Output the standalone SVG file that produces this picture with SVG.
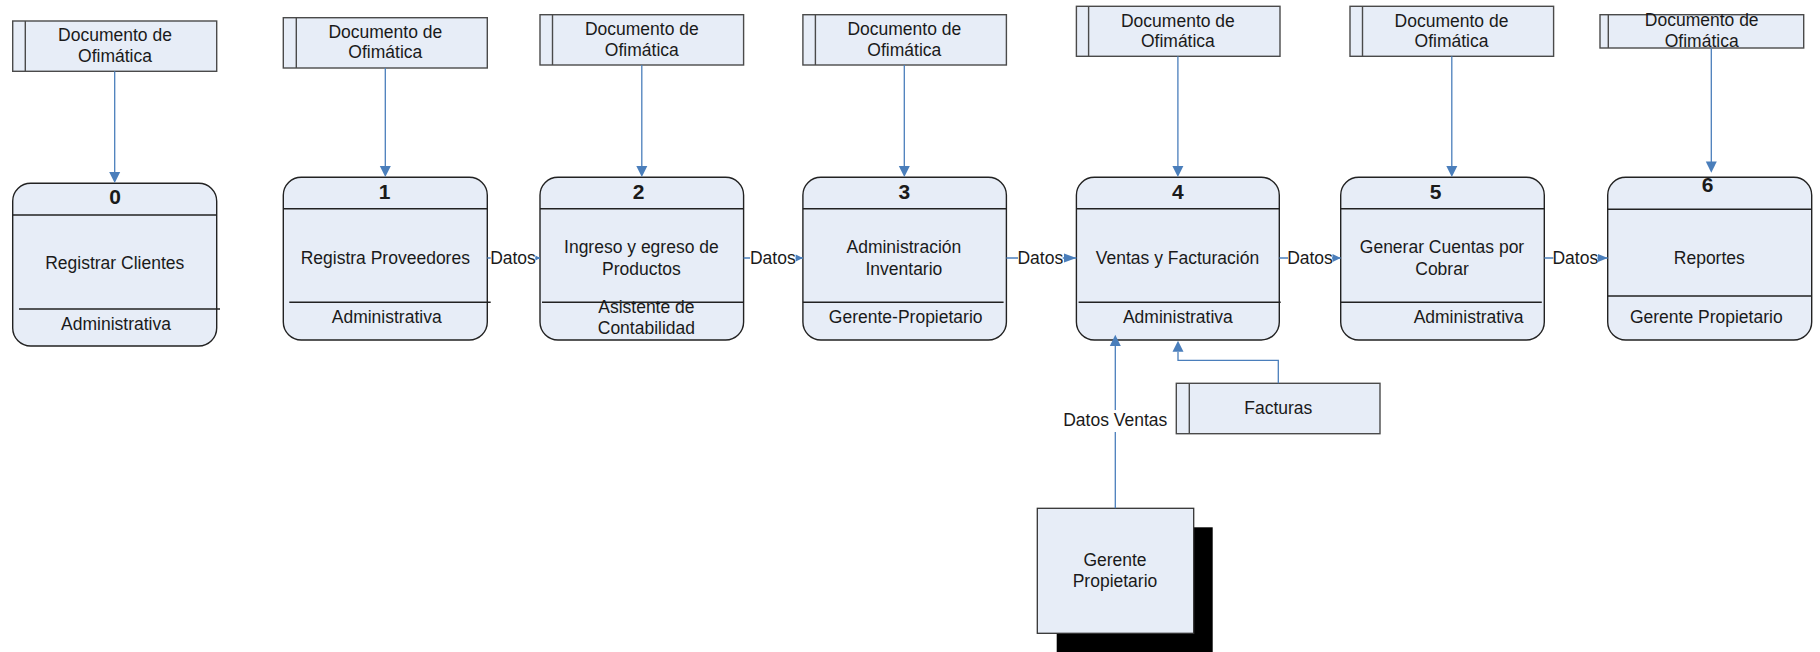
<svg xmlns="http://www.w3.org/2000/svg" width="1820" height="652" viewBox="0 0 1820 652">
  <style>
    text { font-family: "Liberation Sans", Arial, sans-serif; font-size: 17.5px; fill: #1a1a1a; text-anchor: middle; }
    .num { font-weight: bold; font-size: 21px; }
    .proc { fill: #E7EDF7; stroke: #222; stroke-width: 1.4; }
    .sep { stroke: #222; stroke-width: 1.4; fill: none; }
    .store { fill: #E7EDF7; stroke: #4a4a4a; stroke-width: 1.4; }
    .bar { stroke: #4a4a4a; stroke-width: 1.4; }
    .flow { stroke: #4A7EBB; stroke-width: 1.3; fill: none; }
    .ah { fill: #4A7EBB; }
    .lbl { fill: #ffffff; }
    .ent { fill: #E7EDF7; stroke: #333; stroke-width: 1.3; }
  </style>
  <rect width="1820" height="652" fill="#ffffff"/>

  <!-- data stores: Documento de Ofimática -->
  <g id="doc0">
    <rect class="store" x="12.7" y="21" width="204" height="50.3"/>
    <line class="bar" x1="25.3" y1="21" x2="25.3" y2="71.3"/>
    <text x="115" y="40.7">Documento de</text>
    <text x="115" y="61.7">Ofimática</text>
  </g>
  <g id="doc1">
    <rect class="store" x="283.3" y="17.7" width="204" height="50.3"/>
    <line class="bar" x1="296.3" y1="17.7" x2="296.3" y2="68"/>
    <text x="385.3" y="37.7">Documento de</text>
    <text x="385.3" y="58.3">Ofimática</text>
  </g>
  <g id="doc2">
    <rect class="store" x="540" y="14.7" width="203.6" height="50.3"/>
    <line class="bar" x1="552.5" y1="14.7" x2="552.5" y2="65"/>
    <text x="641.8" y="35">Documento de</text>
    <text x="641.8" y="55.7">Ofimática</text>
  </g>
  <g id="doc3">
    <rect class="store" x="802.9" y="14.7" width="203.5" height="50.3"/>
    <line class="bar" x1="815.4" y1="14.7" x2="815.4" y2="65"/>
    <text x="904.3" y="35">Documento de</text>
    <text x="904.3" y="55.7">Ofimática</text>
  </g>
  <g id="doc4">
    <rect class="store" x="1076.4" y="6.3" width="203.6" height="50"/>
    <line class="bar" x1="1088.6" y1="6.3" x2="1088.6" y2="56.3"/>
    <text x="1177.9" y="26.7">Documento de</text>
    <text x="1177.9" y="47.3">Ofimática</text>
  </g>
  <g id="doc5">
    <rect class="store" x="1350" y="6.3" width="203.6" height="50"/>
    <line class="bar" x1="1362.5" y1="6.3" x2="1362.5" y2="56.3"/>
    <text x="1451.5" y="26.7">Documento de</text>
    <text x="1451.5" y="47.3">Ofimática</text>
  </g>
  <g id="doc6">
    <rect class="store" x="1600" y="14.7" width="203.7" height="33.3"/>
    <line class="bar" x1="1608.3" y1="14.7" x2="1608.3" y2="48"/>
    <text x="1701.7" y="26">Documento de</text>
    <text x="1701.7" y="46.7">Ofimática</text>
  </g>

  <!-- processes -->
  <g id="p0">
    <rect class="proc" x="12.7" y="183.3" width="204" height="162.7" rx="18"/>
    <line class="sep" x1="12.7" y1="215" x2="216.7" y2="215"/>
    <line class="sep" x1="19" y1="309" x2="220" y2="309"/>
    <text class="num" x="115" y="204">0</text>
    <text x="114.7" y="269">Registrar Clientes</text>
    <text x="116" y="330">Administrativa</text>
  </g>
  <g id="p1">
    <rect class="proc" x="283.3" y="177.3" width="204" height="162.7" rx="18"/>
    <line class="sep" x1="283.3" y1="208.7" x2="487.3" y2="208.7"/>
    <line class="sep" x1="289.3" y1="302.3" x2="490.7" y2="302.3"/>
    <text class="num" x="384.7" y="198.5">1</text>
    <text x="385.3" y="264.3">Registra Proveedores</text>
    <text x="386.7" y="322.7">Administrativa</text>
  </g>
  <g id="p2">
    <rect class="proc" x="540" y="177.3" width="203.6" height="162.7" rx="18"/>
    <line class="sep" x1="540" y1="208.7" x2="743.6" y2="208.7"/>
    <line class="sep" x1="542" y1="302.3" x2="743.6" y2="302.3"/>
    <text class="num" x="638.6" y="198.5">2</text>
    <text x="641.4" y="253.3">Ingreso y egreso de</text>
    <text x="641.4" y="275">Productos</text>
    <text x="646.4" y="313.3">Asistente de</text>
    <text x="646.4" y="334">Contabilidad</text>
  </g>
  <g id="p3">
    <rect class="proc" x="802.9" y="177.3" width="203.5" height="162.7" rx="18"/>
    <line class="sep" x1="802.9" y1="208.7" x2="1006.4" y2="208.7"/>
    <line class="sep" x1="802.9" y1="302.3" x2="1003.6" y2="302.3"/>
    <text class="num" x="904.3" y="198.5">3</text>
    <text x="903.9" y="253.3">Administración</text>
    <text x="903.9" y="275">Inventario</text>
    <text x="905.7" y="322.7">Gerente-Propietario</text>
  </g>
  <g id="p4">
    <rect class="proc" x="1076.4" y="177.3" width="202.9" height="162.7" rx="18"/>
    <line class="sep" x1="1076.4" y1="208.7" x2="1279.3" y2="208.7"/>
    <line class="sep" x1="1078.6" y1="302.3" x2="1280.7" y2="302.3"/>
    <text class="num" x="1177.9" y="198.5">4</text>
    <text x="1177.5" y="264.3">Ventas y Facturación</text>
    <text x="1177.9" y="322.7">Administrativa</text>
  </g>
  <g id="p5">
    <rect class="proc" x="1340.7" y="177.3" width="203.6" height="162.7" rx="18"/>
    <line class="sep" x1="1340.7" y1="208.7" x2="1544.3" y2="208.7"/>
    <line class="sep" x1="1340.7" y1="302.3" x2="1541.8" y2="302.3"/>
    <text class="num" x="1435.7" y="198.5">5</text>
    <text x="1442" y="253.3">Generar Cuentas por</text>
    <text x="1442" y="275">Cobrar</text>
    <text x="1468.6" y="322.7">Administrativa</text>
  </g>
  <g id="p6">
    <rect class="proc" x="1607.7" y="177.3" width="204" height="162.7" rx="18"/>
    <line class="sep" x1="1607.7" y1="209.3" x2="1811.7" y2="209.3"/>
    <line class="sep" x1="1607.7" y1="296" x2="1811.7" y2="296"/>
    <text class="num" x="1707.7" y="192">6</text>
    <text x="1709.3" y="264.3">Reportes</text>
    <text x="1706.3" y="322.7">Gerente Propietario</text>
  </g>

  <!-- data store: Facturas -->
  <g id="facturas">
    <rect class="store" x="1176.3" y="383.3" width="203.7" height="50.4"/>
    <line class="bar" x1="1189.3" y1="383.3" x2="1189.3" y2="433.7"/>
    <text x="1278.3" y="414">Facturas</text>
  </g>

  <!-- external entity: Gerente Propietario -->
  <g id="gerente">
    <rect x="1056.7" y="527.3" width="156" height="124.7" fill="#000000"/>
    <rect class="ent" x="1037.3" y="508.3" width="156.4" height="125"/>
    <text x="1115" y="565.7">Gerente</text>
    <text x="1115" y="586.7">Propietario</text>
  </g>

  <!-- flows -->
  <g id="connectors">
    <!-- store to process -->
    <line class="flow" x1="114.7" y1="71.3" x2="114.7" y2="173"/>
    <polygon class="ah" points="109.2,172 120.2,172 114.7,183"/>
    <line class="flow" x1="385.3" y1="68" x2="385.3" y2="167"/>
    <polygon class="ah" points="379.8,166 390.8,166 385.3,177"/>
    <line class="flow" x1="641.8" y1="65" x2="641.8" y2="167"/>
    <polygon class="ah" points="636.3,166 647.3,166 641.8,177"/>
    <line class="flow" x1="904.3" y1="65" x2="904.3" y2="167"/>
    <polygon class="ah" points="898.8,166 909.8,166 904.3,177"/>
    <line class="flow" x1="1177.9" y1="56.3" x2="1177.9" y2="167"/>
    <polygon class="ah" points="1172.4,166 1183.4,166 1177.9,177"/>
    <line class="flow" x1="1451.8" y1="56.3" x2="1451.8" y2="167"/>
    <polygon class="ah" points="1446.3,166 1457.3,166 1451.8,177"/>
    <line class="flow" x1="1711.3" y1="48" x2="1711.3" y2="162"/>
    <polygon class="ah" points="1705.8,161.5 1716.8,161.5 1711.3,172.7"/>

    <!-- process to process -->
    <line class="flow" x1="487.3" y1="258" x2="540" y2="258"/>
    <rect class="lbl" x="490.7" y="249" width="44.6" height="19"/>
    <text x="513" y="264">Datos</text>
    <polygon class="ah" points="535.5,255.5 535.5,260.5 540,258"/>

    <line class="flow" x1="743.6" y1="258" x2="802.9" y2="258"/>
    <rect class="lbl" x="750" y="249" width="45.7" height="19"/>
    <text x="772.8" y="264">Datos</text>
    <polygon class="ah" points="795.7,254.5 795.7,261.5 802.9,258"/>

    <line class="flow" x1="1006.4" y1="258" x2="1076.4" y2="258"/>
    <rect class="lbl" x="1018" y="249" width="44.7" height="19"/>
    <text x="1040.3" y="264">Datos</text>
    <polygon class="ah" points="1064,253.5 1064,262.5 1076.4,258"/>

    <line class="flow" x1="1279.3" y1="258" x2="1340.7" y2="258"/>
    <rect class="lbl" x="1288" y="249" width="44" height="19"/>
    <text x="1310" y="264">Datos</text>
    <polygon class="ah" points="1332.5,254 1332.5,262 1340.7,258"/>

    <line class="flow" x1="1544.3" y1="258" x2="1607.7" y2="258"/>
    <rect class="lbl" x="1553.3" y="249" width="44" height="19"/>
    <text x="1575.3" y="264">Datos</text>
    <polygon class="ah" points="1598,254 1598,262 1607.7,258"/>

    <!-- entity to process 4 -->
    <line class="flow" x1="1115.3" y1="508.3" x2="1115.3" y2="346"/>
    <polygon class="ah" points="1109.8,346 1120.8,346 1115.3,334.7"/>
    <rect class="lbl" x="1062.7" y="410" width="105" height="22"/>
    <text x="1115.3" y="426">Datos Ventas</text>

    <!-- Facturas to process 4 -->
    <polyline class="flow" points="1278.3,383.3 1278.3,360.3 1178,360.3 1178,351.7"/>
    <polygon class="ah" points="1172.5,351.7 1183.5,351.7 1178,340.7"/>
  </g>
</svg>
